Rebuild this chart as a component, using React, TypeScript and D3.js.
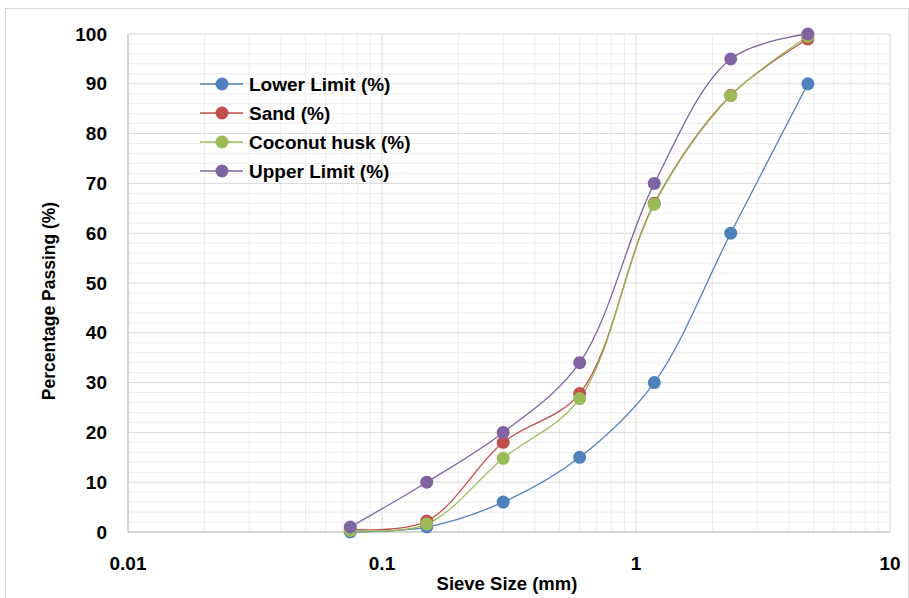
import React, { useEffect, useRef } from 'react';
import * as d3 from 'd3';

const sieveSizes = [0.075, 0.15, 0.3, 0.6, 1.18, 2.36, 4.75];
const lowerLimit = [0, 1, 6, 15, 30, 60, 90];
const sand = [0.5, 2.2, 18, 27.8, 66, 87.7, 99];
const coconutHusk = [0.3, 1.6, 14.8, 26.8, 65.8, 87.6, 99.5];
const upperLimit = [1, 10, 20, 34, 70, 95, 100];

const seriesNames = ['Lower Limit (%)', 'Sand (%)', 'Coconut husk (%)', 'Upper Limit (%)'];
const seriesColors = ['#4F81BD', '#C0504D', '#9BBB59', '#8064A2'];
const xTicks = [0.01, 0.1, 1, 10];
const yTicks = [0, 10, 20, 30, 40, 50, 60, 70, 80, 90, 100];

const App = () => {
  const svgRef = useRef<SVGSVGElement>(null);

  useEffect(() => {
    const W = 909;
    const H = 598;
    const margin = { top: 34, right: 19, bottom: 66, left: 128 };
    const font = '"Liberation Sans", Arial, sans-serif';

    const svg = d3.select(svgRef.current).attr('width', W).attr('height', H);
    svg.selectAll('*').remove();

    // outer chart border
    svg.append('rect')
      .attr('x', 5.5).attr('y', 8.5)
      .attr('width', W - 6).attr('height', H)
      .attr('fill', '#fff').attr('stroke', '#d9d9d9');

    const x = d3.scaleLog().domain([0.01, 10]).range([margin.left, W - margin.right]);
    const y = d3.scaleLinear().domain([0, 100]).range([H - margin.bottom, margin.top]);

    const g = svg.append('g');

    // minor gridlines
    const minorX: number[] = [];
    [0.01, 0.1, 1].forEach(d => { for (let k = 2; k <= 9; k++) minorX.push(d * k); });
    const minorY = d3.range(0, 101, 2).filter(v => v % 10 !== 0);

    g.selectAll('.mx').data(minorX).enter().append('line')
      .attr('x1', d => x(d)).attr('x2', d => x(d))
      .attr('y1', y(0)).attr('y2', y(100))
      .attr('stroke', '#eeeeee');
    g.selectAll('.my').data(minorY).enter().append('line')
      .attr('x1', x(0.01)).attr('x2', x(10))
      .attr('y1', d => y(d)).attr('y2', d => y(d))
      .attr('stroke', '#eeeeee');

    // major gridlines
    g.selectAll('.gx').data(xTicks).enter().append('line')
      .attr('x1', d => x(d)).attr('x2', d => x(d))
      .attr('y1', y(0)).attr('y2', y(100))
      .attr('stroke', '#d9d9d9');
    g.selectAll('.gy').data(yTicks).enter().append('line')
      .attr('x1', x(0.01)).attr('x2', x(10))
      .attr('y1', d => y(d)).attr('y2', d => y(d))
      .attr('stroke', '#d9d9d9');

    // axis lines
    g.append('line')
      .attr('x1', x(0.01)).attr('x2', x(10))
      .attr('y1', y(0)).attr('y2', y(0))
      .attr('stroke', '#bfbfbf');
    g.append('line')
      .attr('x1', x(0.01)).attr('x2', x(0.01))
      .attr('y1', y(0)).attr('y2', y(100))
      .attr('stroke', '#bfbfbf');

    // tick labels
    g.selectAll('.yt').data(yTicks).enter().append('text')
      .attr('x', x(0.01) - 21).attr('y', d => y(d)).attr('dy', '0.35em')
      .attr('text-anchor', 'end')
      .style('font', `bold 19px ${font}`).attr('fill', '#000')
      .text(d => d);
    g.selectAll('.xt').data(xTicks).enter().append('text')
      .attr('x', d => x(d)).attr('y', y(0) + 38)
      .attr('text-anchor', 'middle')
      .style('font', `bold 19px ${font}`).attr('fill', '#000')
      .text(d => String(d));

    // axis titles
    svg.append('text')
      .attr('x', (x(0.01) + x(10)) / 2 - 2).attr('y', 590)
      .attr('text-anchor', 'middle')
      .style('font', `bold 18.5px ${font}`)
      .text('Sieve Size (mm)');
    svg.append('text')
      .attr('transform', `translate(55, 301) rotate(-90)`)
      .attr('text-anchor', 'middle')
      .style('font', `bold 17.5px ${font}`)
      .text('Percentage Passing (%)');

    const allSeries = [lowerLimit, sand, coconutHusk, upperLimit];
    const line = d3.line<number>()
      .x((_, i) => x(sieveSizes[i]))
      .y(d => y(d))
      .curve(d3.curveCatmullRom.alpha(0.5));

    allSeries.forEach((vals, s) => {
      g.append('path')
        .attr('d', line(vals))
        .attr('fill', 'none')
        .attr('stroke', seriesColors[s])
        .attr('stroke-width', 1.3);
    });
    allSeries.forEach((vals, s) => {
      g.selectAll(`.pt${s}`).data(vals).enter().append('circle')
        .attr('cx', (_, i) => x(sieveSizes[i]))
        .attr('cy', d => y(d))
        .attr('r', 6.5)
        .attr('fill', seriesColors[s]);
    });

    // legend
    const legend = svg.append('g').attr('transform', 'translate(200, 84)');
    seriesNames.forEach((name, i) => {
      const row = legend.append('g').attr('transform', `translate(0, ${i * 29})`);
      row.append('line').attr('x1', 0).attr('x2', 43).attr('y1', 0).attr('y2', 0)
        .attr('stroke', seriesColors[i]).attr('stroke-width', 1.3);
      row.append('circle').attr('cx', 22).attr('cy', 0).attr('r', 6.5)
        .attr('fill', seriesColors[i]);
      row.append('text').attr('x', 49).attr('y', 0).attr('dy', '0.35em')
        .style('font', `bold 19px ${font}`).text(name);
    });
  }, []);

  return <svg ref={svgRef} style={{ position: 'absolute', left: 0, top: 0 }} />;
};

export default App;
